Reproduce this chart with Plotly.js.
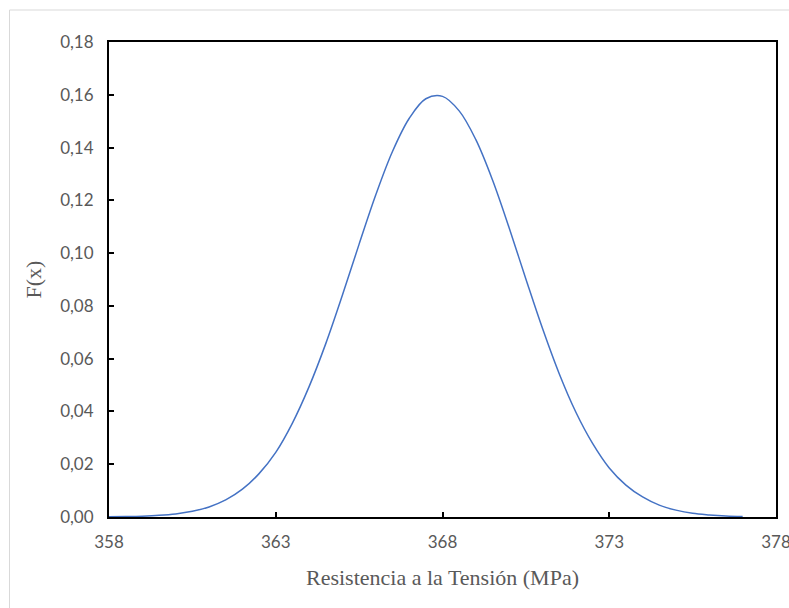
<!DOCTYPE html>
<html>
<head>
<meta charset="utf-8">
<script src="https://cdn.plot.ly/plotly-3.0.1.min.js"></script>
<style>html,body{margin:0;padding:0;background:#fff;}#chart{width:789px;height:608px;}</style>
</head>
<body>
<div id="chart"></div>
<script>
const xValues = [358, 358.5, 359, 359.5, 360, 360.5, 361, 361.5, 362, 362.5, 363, 363.5, 364, 364.5, 365, 365.5, 366, 366.5, 367, 367.5, 368, 368.5, 369, 369.5, 370, 370.5, 371, 371.5, 372, 372.5, 373, 373.5, 374, 374.5, 375, 375.5, 376, 376.5, 377];
const fValues = [0.00007, 0.00015, 0.00031, 0.00062, 0.00118, 0.00217, 0.00382, 0.00647, 0.01053, 0.01644, 0.0245, 0.0356, 0.0494, 0.0657, 0.0841, 0.1034, 0.1221, 0.1385, 0.1510, 0.1585, 0.1594, 0.1539, 0.1430, 0.1277, 0.1095, 0.0902, 0.0714, 0.0543, 0.0397, 0.0279, 0.0186, 0.0121, 0.0076, 0.0045, 0.0026, 0.0014, 0.0008, 0.0004, 0.0002];
const xTicks = [358, 363, 368, 373, 378];
const yTicks = [0, 0.02, 0.04, 0.06, 0.08, 0.10, 0.12, 0.14, 0.16, 0.18];
const xTitle = 'Resistencia a la Tensión (MPa)';
const yTitle = 'F(x)';

const tickFont = {family: 'Lato, "Open Sans", sans-serif', size: 17, color: '#595959'};
const titleFont = {family: '"Liberation Serif", "Times New Roman", serif', size: 22, color: '#595959'};

Plotly.newPlot('chart', [{
  x: xValues, y: fValues, type: 'scatter', mode: 'lines',
  line: {color: '#4472C4', width: 1.5, shape: 'spline', smoothing: 1},
  hoverinfo: 'skip'
}], {
  width: 789, height: 608,
  margin: {l: 109, r: 13, t: 42, b: 91},
  paper_bgcolor: '#fff', plot_bgcolor: '#fff',
  separators: ',.',
  showlegend: false,
  xaxis: {
    range: [358, 378.0001], tickvals: xTicks, ticktext: xTicks.map(String),
    showgrid: false, zeroline: false,
    showline: true, linecolor: '#000', linewidth: 2, mirror: true,
    ticks: 'inside', ticklen: 5, tickwidth: 2, tickcolor: '#000',
    tickfont: tickFont, ticklabelstandoff: 9, ticklabeloverflow: 'allow',
    title: {text: xTitle, font: titleFont, standoff: 18}
  },
  yaxis: {
    range: [0, 0.18], tickvals: yTicks, tickformat: '.2f',
    showgrid: false, zeroline: false,
    showline: true, linecolor: '#000', linewidth: 2, mirror: true,
    ticks: 'inside', ticklen: 5, tickwidth: 2, tickcolor: '#000',
    tickfont: tickFont, ticklabelstandoff: 10, ticklabeloverflow: 'allow',
    title: {text: yTitle, font: titleFont, standoff: 12}
  },
  shapes: [
    {type: 'line', xref: 'paper', yref: 'paper', x0: -99.5/667, x1: 1 + 13/667, y0: 1 + 32/475, y1: 1 + 32/475, line: {color: '#d9d9d9', width: 1}},
    {type: 'line', xref: 'paper', yref: 'paper', x0: -99.5/667, x1: -99.5/667, y0: 1 + 32/475, y1: -91/475, line: {color: '#d9d9d9', width: 1}}
  ]
}, {displayModeBar: false, staticPlot: true});
</script>
</body>
</html>
